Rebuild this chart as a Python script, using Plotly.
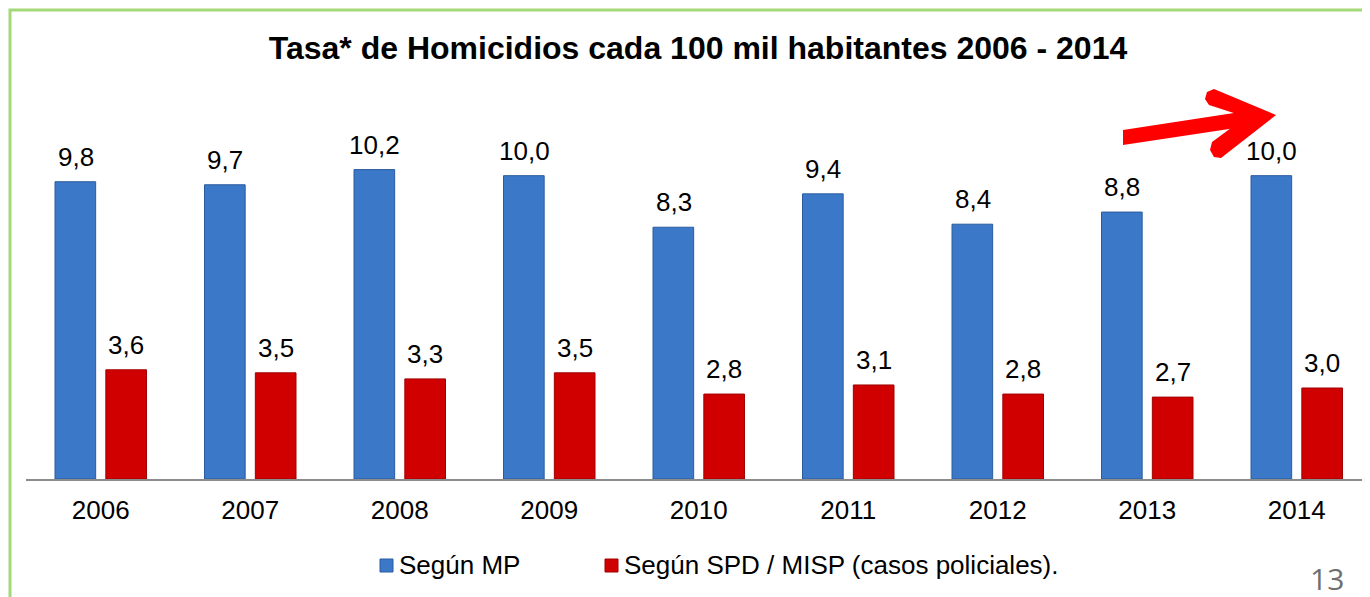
import plotly.graph_objects as go

years = ["2006", "2007", "2008", "2009", "2010", "2011", "2012", "2013", "2014"]
segun_mp = [9.8, 9.7, 10.2, 10.0, 8.3, 9.4, 8.4, 8.8, 10.0]
segun_spd = [3.6, 3.5, 3.3, 3.5, 2.8, 3.1, 2.8, 2.7, 3.0]
series_names = ["Según MP", "Según SPD / MISP (casos policiales)."]
series_colors = ["#3B78C8", "#D00000"]
series_edges = ["#2A5C9E", "#A00000"]
title_text = "Tasa* de Homicidios cada 100 mil habitantes 2006 - 2014"
page_number = "13"

W, H = 1370, 597
OFF = 8  # page body margin
ML, MR, MT, MB = 18, 0, 107, 126
PW = W - ML - MR
PH = H - MT - MB
CAT_PX = 149.5


def px(x):
    return (x - OFF - ML) / PW


def py(y):
    return (H - MB - (y - OFF)) / PH


def path(points):
    return "M " + " L ".join(f"{px(x):.5f},{py(y):.5f}" for x, y in points) + " Z"


FONT = "Liberation Sans, Arial, sans-serif"

fig = go.Figure()
for vals, name, col, edge in zip([segun_mp, segun_spd], series_names, series_colors, series_edges):
    fig.add_trace(go.Bar(
        x=years, y=vals, name=name,
        marker=dict(color=col, line=dict(color=edge, width=1)),
        showlegend=False,
    ))

annotations = []
for vals, shift in zip([segun_mp, segun_spd], [-25.25, 25.25]):
    for i, v in enumerate(vals):
        annotations.append(dict(
            x=i, y=v, xref="x", yref="y", xshift=shift, yshift=25,
            text=f"{v:.1f}".replace(".", ","), showarrow=False,
            xanchor="center", yanchor="middle",
            font=dict(family=FONT, size=26, color="#000000")))

# manual legend
legend_px = [(380, 397), (605, 622)]
shapes = []
for (sx, tx), name, col, edge in zip(legend_px, series_names, series_colors, series_edges):
    shapes.append(dict(type="rect", xref="paper", yref="paper",
                       x0=px(sx), x1=px(sx + 13), y0=py(572), y1=py(559),
                       fillcolor=col, line=dict(color=edge, width=1)))
    annotations.append(dict(text=name, xref="paper", yref="paper", x=px(tx), y=py(565),
                            xanchor="left", yanchor="middle", showarrow=False,
                            font=dict(family=FONT, size=26, color="#000000")))

annotations.append(dict(text=page_number, xref="paper", yref="paper", x=px(1327), y=py(578),
                        xanchor="center", yanchor="middle", showarrow=False,
                        font=dict(family="Open Sans, sans-serif", size=30, color="#6E6E6E")))

shapes += [
    # green frame
    dict(type="rect", xref="paper", yref="paper",
         x0=px(10), x1=px(1420), y0=py(10), y1=py(700),
         line=dict(color="#A3D977", width=3), fillcolor="rgba(0,0,0,0)", layer="below"),
    # arrow shaft
    dict(type="path", xref="paper", yref="paper",
         path=path([(1123, 130), (1247, 111), (1249, 126), (1123, 145)]),
         fillcolor="#FF0000", line=dict(width=0)),
    # arrow head (chevron)
    dict(type="path", xref="paper", yref="paper",
         path=path([(1276, 115), (1214, 89), (1207, 92), (1205, 99), (1209, 105),
                    (1246, 117), (1212, 142), (1210, 150), (1214, 157), (1221, 158)]),
         fillcolor="#FF0000", line=dict(width=0)),
]

fig.update_layout(
    width=W, height=H,
    margin=dict(l=ML, r=MR, t=MT, b=MB, autoexpand=False),
    paper_bgcolor="white", plot_bgcolor="white",
    separators=",.",
    barmode="group", bargap=0.32, bargroupgap=0.2,
    title=dict(text="<b>" + title_text + "</b>", x=(698 - OFF) / W, xanchor="center",
               y=1 - (48 - OFF) / H, yanchor="middle",
               font=dict(family=FONT, size=32, color="#000000")),
    xaxis=dict(type="category", range=[-0.5, PW / CAT_PX - 0.5], showline=True,
               linecolor="#8C8C8C", linewidth=2,
               ticks="outside", ticklen=7, tickcolor="rgba(0,0,0,0)",
               tickfont=dict(family=FONT, size=26, color="#000000"),
               showgrid=False, zeroline=False, fixedrange=True),
    yaxis=dict(range=[0, 12], visible=False, showgrid=False, zeroline=False),
    showlegend=False,
    shapes=shapes,
    annotations=annotations,
)

fig.write_html("out.html")
